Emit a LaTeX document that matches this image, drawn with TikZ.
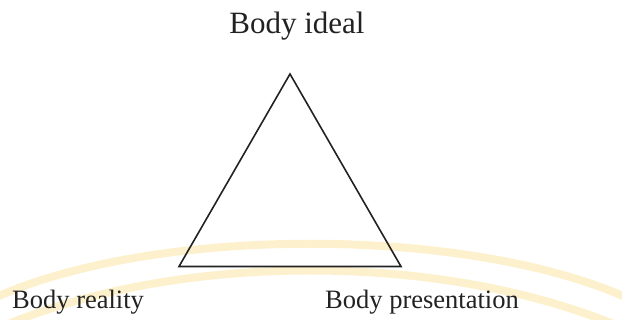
\documentclass[tikz,border=0pt]{standalone}
\usepackage{fontspec}
\setmainfont{Liberation Serif}
\definecolor{wmark}{RGB}{253,241,205}
\definecolor{inkc}{RGB}{34,34,34}
\tikzset{
  lbltop/.style={font=\fontsize{31}{35}\selectfont, text=inkc, inner sep=0pt, anchor=base},
  lblbot/.style={font=\fontsize{26.5}{30}\selectfont, text=inkc, inner sep=0pt, anchor=base west},
  tri/.style={draw=inkc, line width=1.6pt, line join=miter},
  wm/.style={draw=wmark, line width=8pt}
}
\begin{document}
\begin{tikzpicture}[x=1pt,y=-1pt]
\useasboundingbox (0,0) rectangle (622,320);
% faint watermark arcs
\draw[wm] (-10,300) .. controls (150,225) and (470,225) .. (632,300);
\draw[wm] (-10,332) .. controls (170,250) and (450,250) .. (632,332);
% triangle
\coordinate (ideal) at (290,74);
\coordinate (reality) at (179,266.5);
\coordinate (pres) at (401,266.5);
\draw[tri] (ideal) -- (reality) -- (pres) -- cycle;
% labels
\node[lbltop] (tideal) at (297,34) {Body ideal};
\node[lblbot] (treal) at (12,309) {Body reality};
\node[lblbot] (tpres) at (325,309) {Body presentation};
\end{tikzpicture}
\end{document}
